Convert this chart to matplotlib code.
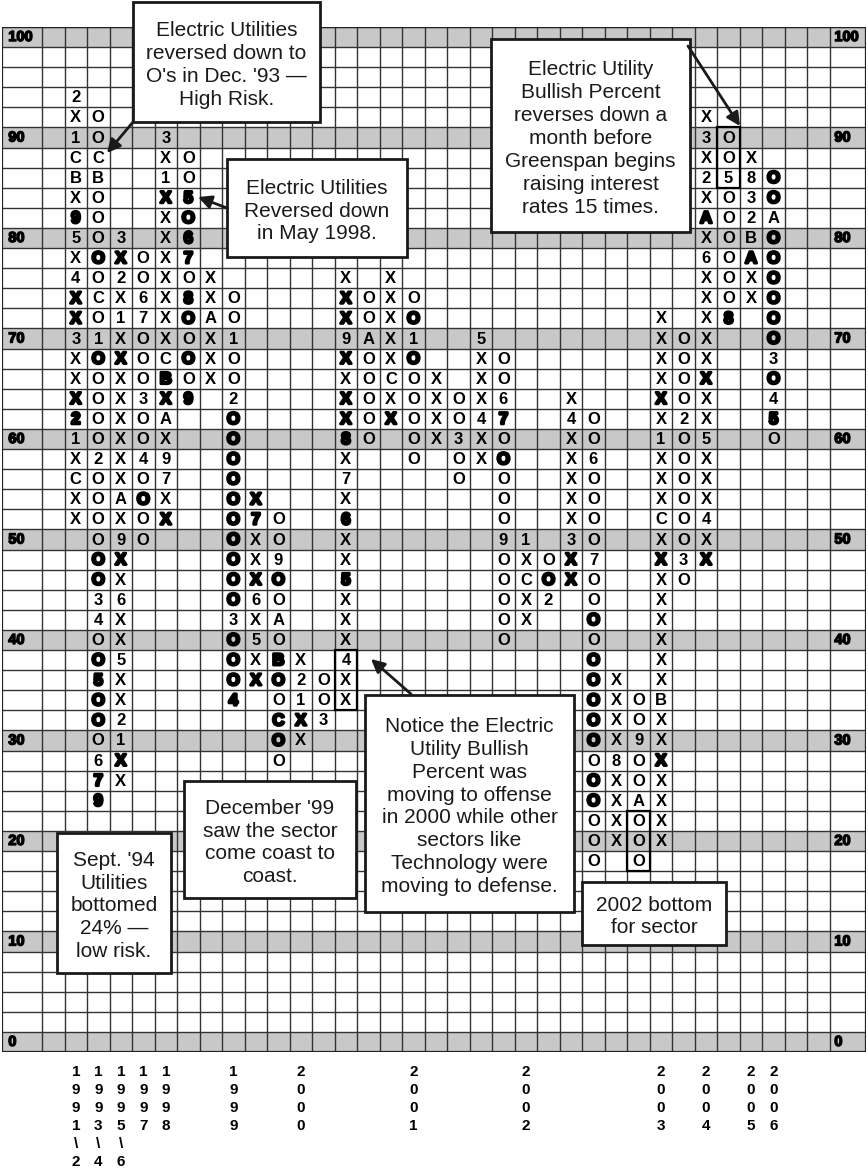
import matplotlib
matplotlib.use("Agg")
import matplotlib.pyplot as plt
from matplotlib.patches import Rectangle
import matplotlib.patheffects as pe

# ---------------- DATA ----------------
# Point & figure columns: column index, top box value, entries top->down ("*" = heavy print)
pf_cols = [1, 2, 3, 4, 5, 6, 7, 8, 9, 10, 11, 12, 13, 14, 15, 16, 17,
           18, 19, 20, 21, 22, 23, 24, 25, 26, 27, 28, 29, 30, 31, 32]
pf_tops = [94, 92, 80, 78, 90, 88, 76, 74, 54, 52, 38, 36, 76, 74, 76, 74, 66,
           64, 70, 68, 50, 48, 64, 62, 36, 34, 72, 70, 92, 90, 88, 86]
pf_boxes = [
    "2 X 1 C B X 9* 5 X 4 X* X* 3 X X X* 2* 1 X C X X",
    "O O C B O O O O* O C O 1 O* O O O O 2 O O O O O* O* 3 4 O O* 5* O* O* O 6 7* 9*",
    "3 X* 2 X 1 X X* X X X X X X A X 9 X* X 6 X X 5 X X 2 1 X* X",
    "O O 6 7 O O O 3 O O 4 O O* O O",
    "3 X 1 X* X X X X X X X C B* X* A X 9 7 X X*",
    "O O 5* O* 6* 7* O 8* O* O O* O 9*",
    "X X A X X X",
    "O O 1 O O 2 O* O* O* O* O* O* O* O* O* O* 3 O* O* O* 4*",
    "X* 7* X X X* 6 X 5 X X*",
    "O O 9 O* O A O B* O* O C* O* O",
    "X 2 1 X* X",
    "O O 3",
    "X X* X* 9 X* X X* X* 8* X 7 X 6* X X 5* X X X 4 X X",
    "O O A O O O O O",
    "X X X X X C X X*",
    "O O* 1 O* O O O O O",
    "X X X X",
    "O O 3 O O",
    "5 X X X 4 X X",
    "O O 6 7* O O* O O O 9 O O O O O",
    "1 X C X X",
    "O O* 2",
    "X 4 X X X X X 3 X* X*",
    "O O 6 O O O O 7 O O O* O O* O* O* O* O* O O* O* O O O",
    "X X X X 8 X X X X",
    "O O 9 O O A O O O",
    "X X X X X* X 1 X X X C X X* X X X X X X B X X X* X X X X",
    "O O O O 2 O O O O O O 3 O",
    "X 3 X 2 X A* X 6 X X X X X X* X X 5 X X X 4 X X*",
    "O O 5 O O O O O O 8*",
    "X 8 3 2 B A* X X",
    "O* O* A O* O* O* O* O* O* 3 O* 4 5* O",
]

row_labels = [100, 90, 80, 70, 60, 50, 40, 30, 20, 10, 0]

year_cols = [1, 2, 3, 4, 5, 8, 11, 16, 21, 27, 29, 31, 32]
year_labels = ["1991\\2", "1993\\4", "1995\\6", "1997", "1998", "1999", "2000",
               "2001", "2002", "2003", "2004", "2005", "2006"]

# highlighted boxes: (column, low value, high value)
hl_cols = [13, 26, 30]
hl_low = [34, 18, 86]
hl_high = [38, 22, 90]

# ---------------- LAYOUT ----------------
W, H = 868, 1174
X0, CW = 42.0, 22.51   # pixel of column 0 left edge, column width
Y0, RH = 37.0, 10.05   # pixel of value 100 centre, pixels per value unit


def P(xp, yp):
    return ((xp - X0) / CW, 100 - (yp - Y0) / RH)


fig = plt.figure(figsize=(W / 100, H / 100), dpi=100)
ax = fig.add_axes([2 / W, (H - 1052) / H, 864 / W, 1025 / H])
xl, _ = P(2, 0)
xr, _ = P(866, 0)
ax.set_xlim(xl, xr)
ax.set_ylim(-1, 101)
ax.axis("off")

FONT = "Liberation Sans"
GRAY = "#c8c8c8"
LINE = "#333333"

# gray rows
for v in row_labels:
    ax.add_patch(Rectangle((xl, v - 1), xr - xl, 2, facecolor=GRAY,
                           edgecolor="none", zorder=0))
# grid
for c in range(0, 36):
    ax.plot([c, c], [-1, 101], color=LINE, lw=1.0, zorder=1)
for k in range(-1, 102, 2):
    ax.plot([xl, xr], [k, k], color=LINE, lw=1.0, zorder=1)
ax.add_patch(Rectangle((xl, -1), xr - xl, 102, fill=False, edgecolor="#222222",
                       lw=1.6, zorder=2))

# row labels
lab_fx = [pe.withStroke(linewidth=1.0, foreground="black")]
for v in row_labels:
    ax.text(xl + 0.28, v, str(v), ha="left", va="center", fontsize=10.5,
            fontweight="bold", family=FONT, zorder=3, path_effects=lab_fx)
    ax.text(35.2, v, str(v), ha="left", va="center", fontsize=10.5,
            fontweight="bold", family=FONT, zorder=3, path_effects=lab_fx)

# point & figure entries
for c, top, boxes in zip(pf_cols, pf_tops, pf_boxes):
    for i, tok in enumerate(boxes.split()):
        v = top - 2 * i
        heavy = tok.endswith("*")
        ch = tok.rstrip("*")
        kw = {}
        if heavy:
            kw["path_effects"] = [pe.withStroke(linewidth=2.0, foreground="black")]
        ax.text(c + 0.5, v - 0.05, ch, ha="center", va="center", fontsize=12,
                fontweight="bold", family=FONT, zorder=4, **kw)

# highlighted boxes
for c, lo, hi in zip(hl_cols, hl_low, hl_high):
    ax.add_patch(Rectangle((c, lo - 1), 1, hi - lo + 2, fill=False,
                           edgecolor="black", lw=1.6, zorder=5))

# year labels (stacked characters)
for c, lab in zip(year_cols, year_labels):
    for j, ch in enumerate(lab):
        _, yv = P(0, 1072 + 18 * j)
        ax.text(c + 0.5, yv, ch, ha="center", va="center", fontsize=11,
                fontweight="bold", family=FONT, clip_on=False)

# annotation boxes (pixel extents)
notes = [
    ((133, 2, 320, 122), "Electric Utilities\nreversed down to\nO's in Dec. '93 —\nHigh Risk."),
    ((227, 159, 407, 257), "Electric Utilities\nReversed down\nin May 1998."),
    ((491, 39, 690, 232), "Electric Utility\nBullish Percent\nreverses down a\nmonth before\nGreenspan begins\nraising interest\nrates 15 times."),
    ((365, 695, 574, 912), "Notice the Electric\nUtility Bullish\nPercent was\nmoving to offense\nin 2000 while other\nsectors like\nTechnology were\nmoving to defense."),
    ((184, 781, 356, 898), "December '99\nsaw the sector\ncome coast to\ncoast."),
    ((57, 833, 171, 973), "Sept. '94\nUtilities\nbottomed\n24% —\nlow risk."),
    ((582, 882, 726, 945), "2002 bottom\nfor sector"),
]
for (x1, y1, x2, y2), txt in notes:
    a0, b0 = P(x1, y2)
    a1, b1 = P(x2, y1)
    ax.add_patch(Rectangle((a0, b0), a1 - a0, b1 - b0, facecolor="white",
                           edgecolor="#1a1a1a", lw=2.0, zorder=6, clip_on=False))
    cx, cy = P((x1 + x2) / 2, (y1 + y2) / 2 + 3)
    ax.text(cx, cy, txt, ha="center", va="center", fontsize=15, family=FONT,
            color="#1a1a1a", linespacing=1.26, zorder=7, clip_on=False)

# arrows (pixel start -> tip)
arrows = [((133, 122), (107, 153)), ((227, 208), (198, 197)),
          ((688, 46), (740, 126)), ((411, 694), (371, 659))]
for s, t in arrows:
    ax.annotate("", xy=P(*t), xytext=P(*s),
                arrowprops=dict(arrowstyle="-|>", color="#1a1a1a", lw=2.0,
                                mutation_scale=20, shrinkA=0, shrinkB=0),
                zorder=8, annotation_clip=False)

fig.savefig("out.png", dpi=100, facecolor="white")
